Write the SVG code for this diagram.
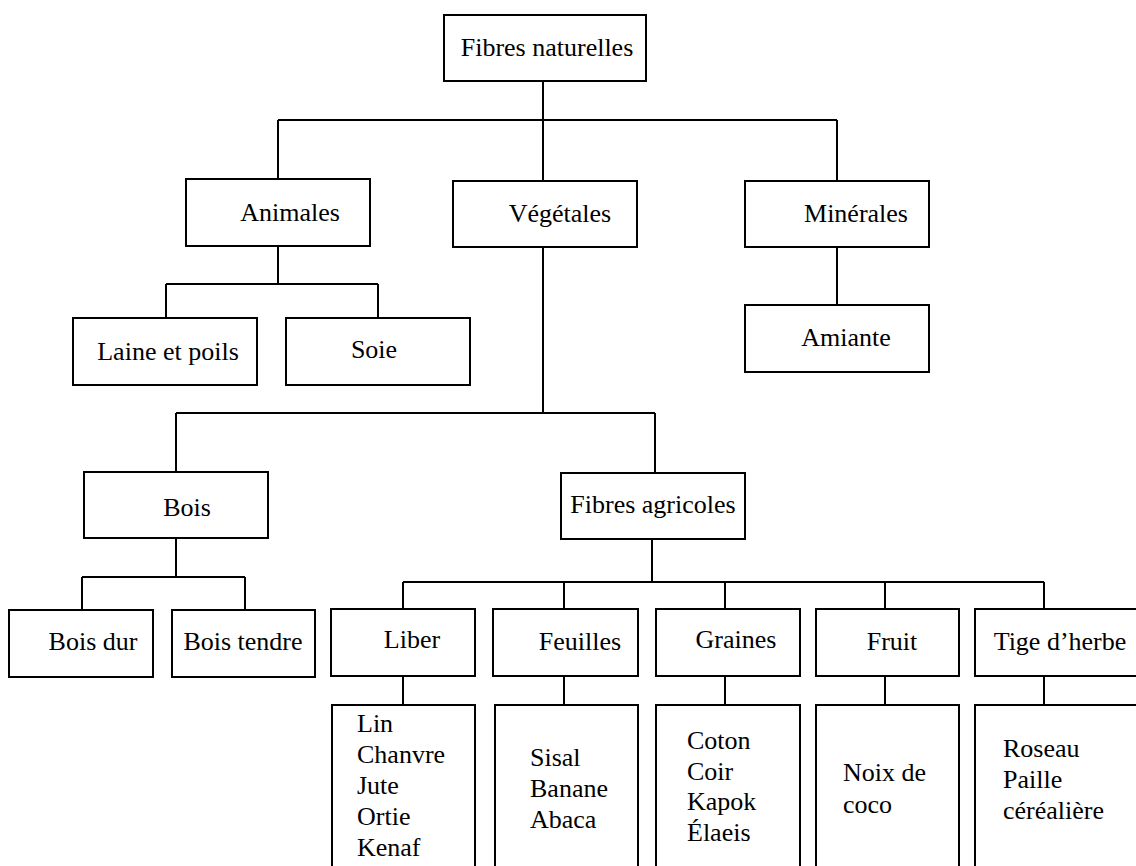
<svg xmlns="http://www.w3.org/2000/svg" width="1136" height="866" viewBox="0 0 1136 866">
<style>
rect{fill:#fff;stroke:#000;stroke-width:2}
text{font-family:"Liberation Serif","Times New Roman",serif;font-size:26px;fill:#000}
.c{text-anchor:middle}
#connectors path{fill:none;stroke:#000;stroke-width:2}
</style>
<rect x="0" y="0" width="1136" height="866" style="stroke:none"/>
<g id="connectors">
<path d="M543 81V120M278 120H837M278 120V178M543 120V181M837 120V181"/>
<path d="M278 246V284M166 284H378M166 284V318M378 284V318"/>
<path d="M837 247V305"/>
<path d="M543 247V413M176 413H655M176 413V472M655 413V473"/>
<path d="M176 538V577M82 577H245M82 577V610M245 577V610"/>
<path d="M652 539V582M403 582H1044M403 582V609M564 582V609M725 582V609M885 582V609M1044 582V609"/>
<path d="M403 676V705M564 676V705M725 676V705M885 676V705M1044 676V705"/>
</g>
<g id="n-root"><rect x="444" y="15" width="202" height="66"/><text class="c" x="547" y="56">Fibres naturelles</text></g>
<g id="n-animales"><rect x="186" y="179" width="184" height="67"/><text class="c" x="290" y="221">Animales</text></g>
<g id="n-vegetales"><rect x="453" y="181" width="184" height="66"/><text class="c" x="560" y="222">Végétales</text></g>
<g id="n-minerales"><rect x="745" y="181" width="184" height="66"/><text class="c" x="856" y="222">Minérales</text></g>
<g id="n-laine"><rect x="73" y="318" width="184" height="67"/><text class="c" x="168" y="360">Laine et poils</text></g>
<g id="n-soie"><rect x="286" y="318" width="184" height="67"/><text class="c" x="374" y="358">Soie</text></g>
<g id="n-amiante"><rect x="745" y="305" width="184" height="67"/><text class="c" x="846" y="346">Amiante</text></g>
<g id="n-bois"><rect x="84" y="472" width="184" height="66"/><text class="c" x="187" y="516">Bois</text></g>
<g id="n-agricoles"><rect x="561" y="473" width="184" height="66"/><text class="c" x="653" y="513">Fibres agricoles</text></g>
<g id="n-boisdur"><rect x="9" y="610" width="144" height="67"/><text class="c" x="93" y="650">Bois dur</text></g>
<g id="n-boistendre"><rect x="172" y="610" width="143" height="67"/><text class="c" x="243" y="650">Bois tendre</text></g>
<g id="n-liber"><rect x="331" y="609" width="144" height="67"/><text class="c" x="412" y="648">Liber</text></g>
<g id="n-feuilles"><rect x="493" y="609" width="145" height="67"/><text class="c" x="580" y="650">Feuilles</text></g>
<g id="n-graines"><rect x="656" y="609" width="144" height="67"/><text class="c" x="736" y="648">Graines</text></g>
<g id="n-fruit"><rect x="816" y="609" width="143" height="67"/><text class="c" x="892" y="650">Fruit</text></g>
<g id="n-tige"><rect x="975" y="609" width="170" height="67"/><text class="c" x="1060" y="650">Tige d’herbe</text></g>
<g id="n-liber-list"><rect x="332" y="705" width="143" height="175"/><text x="357" y="732">Lin</text><text x="357" y="763">Chanvre</text><text x="357" y="794">Jute</text><text x="357" y="825">Ortie</text><text x="357" y="856">Kenaf</text></g>
<g id="n-feuilles-list"><rect x="495" y="705" width="143" height="175"/><text x="530" y="766">Sisal</text><text x="530" y="797">Banane</text><text x="530" y="828">Abaca</text></g>
<g id="n-graines-list"><rect x="656" y="705" width="144" height="175"/><text x="687" y="749">Coton</text><text x="687" y="780">Coir</text><text x="687" y="810">Kapok</text><text x="687" y="841">Élaeis</text></g>
<g id="n-fruit-list"><rect x="816" y="705" width="143" height="175"/><text x="843" y="781">Noix de</text><text x="843" y="813">coco</text></g>
<g id="n-tige-list"><rect x="975" y="705" width="170" height="175"/><text x="1003" y="757">Roseau</text><text x="1003" y="788">Paille</text><text x="1003" y="819">céréalière</text></g>
</svg>
